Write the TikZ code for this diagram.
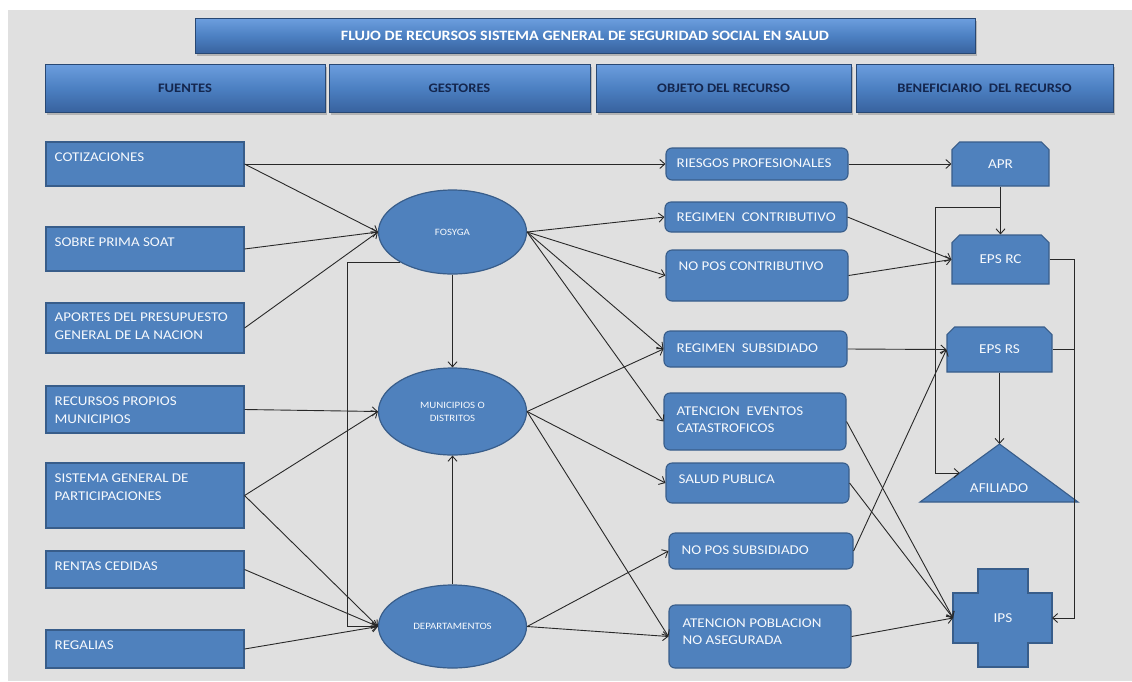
\documentclass[tikz,border=0pt]{standalone}
\usepackage{fontspec}
\setmainfont{Carlito}[FakeStretch=1.12]
\usetikzlibrary{arrows.meta,shapes.geometric,shapes.misc,shadows,calc}
\definecolor{bg}{RGB}{224,224,224}
\definecolor{boxfill}{RGB}{79,129,189}
\definecolor{boxline}{RGB}{56,93,138}
\definecolor{hdrtop}{RGB}{108,158,222}
\definecolor{hdrmid}{RGB}{76,128,194}
\definecolor{hdrbot}{RGB}{56,98,158}
\definecolor{hdrline}{RGB}{40,72,115}
\definecolor{hdrtext}{RGB}{20,38,78}
\definecolor{linec}{RGB}{40,40,40}
\definecolor{txtc}{RGB}{246,249,253}
\tikzset{
  hdr/.style={draw=hdrline, line width=0.8pt, top color=hdrtop, bottom color=hdrbot, middle color=hdrmid,
    drop shadow={shadow xshift=1.5pt, shadow yshift=-2.5pt, opacity=0.45},
    inner sep=0pt, font=\bfseries\fontsize{13}{15}\selectfont},
  srcbox/.style={draw=boxline, fill=boxfill, line width=1.1pt, minimum width=198pt, inner sep=0pt},
  objbox/.style={draw=boxline, fill=boxfill, line width=1.1pt, rounded corners=6pt, inner sep=0pt},
  txt/.style={anchor=north west, inner sep=0pt, align=left, text=txtc, font=\fontsize{13.4}{17.5}\selectfont},
  ell/.style={ellipse, draw=boxline, fill=boxfill, line width=1.2pt, minimum width=148pt, inner sep=0pt,
    text=txtc, align=center, font=\fontsize{9.7}{13}\selectfont},
  epsbox/.style={chamfered rectangle, chamfered rectangle corners={north west,north east},
    chamfered rectangle xsep=7pt, draw=boxline, fill=boxfill, line width=1.1pt, inner sep=0pt,
    text=txtc, font=\fontsize{13.6}{15}\selectfont},
  shp/.style={draw=boxline, fill=boxfill, line width=1.1pt, line join=miter},
  shptxt/.style={inner sep=0pt, text=txtc, font=\fontsize{13.6}{15}\selectfont},
  conn/.style={draw=linec, line width=0.9pt, -{Straight Barb[length=5pt,width=9pt]}},
  plain/.style={draw=linec, line width=0.9pt},
}
\begin{document}
\begin{tikzpicture}[x=1pt,y=-1pt]
\useasboundingbox (0,0) rectangle (1132,681);
\fill[white] (0,0) rectangle (1132,681);
\fill[bg] (8,10) rectangle (1132,681);

% headers
\node[hdr, minimum width=780pt, minimum height=35pt, text=white, font=\bfseries\fontsize{14.3}{16}\selectfont] (title) at (585,36) {FLUJO DE RECURSOS SISTEMA GENERAL DE SEGURIDAD SOCIAL EN SALUD};
\node[hdr, minimum width=280pt, minimum height=48pt, text=hdrtext] (h1) at (185,88) {FUENTES};
\node[hdr, minimum width=261pt, minimum height=48pt, text=hdrtext] (h2) at (459.5,88) {GESTORES};
\node[hdr, minimum width=255pt, minimum height=48pt, text=hdrtext] (h3) at (723.5,88) {OBJETO DEL RECURSO};
\node[hdr, minimum width=257pt, minimum height=48pt, text=hdrtext] (h4) at (984.5,88) {BENEFICIARIO\ \ DEL RECURSO};

% sources
\node[srcbox, minimum height=44pt] (cot) at (145,164) {};
\node[srcbox, minimum height=44pt] (soat) at (145,249) {};
\node[srcbox, minimum height=50pt] (apor) at (145,328) {};
\node[srcbox, minimum height=47pt] (recp) at (145,409.5) {};
\node[srcbox, minimum height=65pt] (sgp) at (145,495.5) {};
\node[srcbox, minimum height=37pt] (rent) at (145,569.5) {};
\node[srcbox, minimum height=38pt] (reg) at (145,649) {};
\node[txt] (cotT) at ([shift={(9,11.5)}]cot.north west) {COTIZACIONES};
\node[txt] (soatT) at ([shift={(9,11.5)}]soat.north west) {SOBRE PRIMA SOAT};
\node[txt] (aporT) at ([shift={(9,10.5)}]apor.north west) {APORTES DEL PRESUPUESTO\\GENERAL DE LA NACION};
\node[txt] (recpT) at ([shift={(9,11.5)}]recp.north west) {RECURSOS PROPIOS\\MUNICIPIOS};
\node[txt] (sgpT) at ([shift={(9,11.5)}]sgp.north west) {SISTEMA GENERAL DE\\PARTICIPACIONES};
\node[txt] (rentT) at ([shift={(9,11)}]rent.north west) {RENTAS CEDIDAS};
\node[txt] (regT) at ([shift={(9,11.5)}]reg.north west) {REGALIAS};

% managers
\node[ell, minimum height=84pt] (fos) at (452.5,232) {FOSYGA};
\node[ell, minimum height=87pt] (mun) at (452.5,411.5) {MUNICIPIOS O\\DISTRITOS};
\node[ell, minimum height=83pt] (dep) at (452.5,626.5) {DEPARTAMENTOS};

% objects
\node[objbox, minimum width=182pt, minimum height=32pt] (rp) at (757,164) {};
\node[objbox, minimum width=182pt, minimum height=30pt] (rc) at (756,217) {};
\node[objbox, minimum width=182pt, minimum height=51pt] (npc) at (757,275.5) {};
\node[objbox, minimum width=183pt, minimum height=36pt] (rs) at (755.5,349) {};
\node[objbox, minimum width=182pt, minimum height=57pt] (aec) at (755,421.5) {};
\node[objbox, minimum width=183pt, minimum height=40pt] (sp) at (757.5,483) {};
\node[objbox, minimum width=184pt, minimum height=36pt] (nps) at (761,551) {};
\node[objbox, minimum width=182pt, minimum height=63pt] (apn) at (760,636.5) {};
\node[txt] (rpT) at ([shift={(11,11.5)}]rp.north west) {RIESGOS PROFESIONALES};
\node[txt] (rcT) at ([shift={(12,11)}]rc.north west) {REGIMEN\ \ CONTRIBUTIVO};
\node[txt] (npcT) at ([shift={(13,12)}]npc.north west) {NO POS CONTRIBUTIVO};
\node[txt] (rsT) at ([shift={(13,13)}]rs.north west) {REGIMEN\ \ SUBSIDIADO};
\node[txt] (aecT) at ([shift={(13,14)}]aec.north west) {ATENCION\ \ EVENTOS\\CATASTROFICOS};
\node[txt] (spT) at ([shift={(13,12)}]sp.north west) {SALUD PUBLICA};
\node[txt] (npsT) at ([shift={(13,13)}]nps.north west) {NO POS SUBSIDIADO};
\node[txt] (apnT) at ([shift={(14,14)}]apn.north west) {ATENCION POBLACION\\NO ASEGURADA};

% beneficiaries
\node[epsbox, minimum width=97pt, minimum height=44pt] (apr) at (1000.5,164) {APR};
\node[epsbox, minimum width=97pt, minimum height=49pt] (epsrc) at (1000.5,259.5) {EPS RC};
\node[epsbox, minimum width=105pt, minimum height=45pt] (epsrs) at (999.5,349.5) {EPS RS};

\coordinate (afA) at (999.5,444);
\coordinate (afBL) at (920,502);
\coordinate (afBR) at (1078,502);
\filldraw[shp] (afA) -- (afBR) -- (afBL) -- cycle;
\node[shptxt] (afi) at (999,488) {AFILIADO};
\coordinate (afL) at ($(afA)!0.5!(afBL)$);

\filldraw[shp] (978,569) -- (1028,569) -- (1028,593) -- (1052,593) -- (1052,643) -- (1028,643)
  -- (1028,667) -- (978,667) -- (978,643) -- (953,643) -- (953,593) -- (978,593) -- cycle;
\node[shptxt] (ips) at (1003,618) {IPS};
\coordinate (ipsL) at (953,618);
\coordinate (ipsR) at (1052,618);

% rails
\coordinate (railL) at (347,0);
\coordinate (railA) at (935,0);
\coordinate (railR) at (1074,0);
\coordinate (j1) at ($(apr.south)!0.43!(epsrc.north)$);

% connectors: sources -> managers
\draw[conn] (cot.east) -- (rp.west);
\draw[conn] (cot.east) -- (fos.west);
\draw[conn] (soat.east) -- (fos.west);
\draw[conn] (apor.east) -- (fos.west);
\draw[conn] (recp.east) -- (mun.west);
\draw[conn] (sgp.east) -- (mun.west);
\draw[conn] (sgp.east) -- (dep.west);
\draw[conn] (rent.east) -- (dep.west);
\draw[conn] (reg.east) -- (dep.west);
\draw[conn] (fos.south) -- (mun.north);
\draw[conn] (dep.north) -- (mun.south);
\draw[conn] (fos.south west) -- (fos.south west -| railL) |- (dep.west);

% managers -> objects
\draw[conn] (fos.east) -- (rc.west);
\draw[conn] (fos.east) -- (npc.west);
\draw[conn] (fos.east) -- (rs.west);
\draw[conn] (fos.east) -- (aec.west);
\draw[conn] (mun.east) -- (rs.west);
\draw[conn] (mun.east) -- (sp.west);
\draw[conn] (mun.east) -- (apn.west);
\draw[conn] (dep.east) -- (nps.west);
\draw[conn] (dep.east) -- (apn.west);

% objects -> beneficiaries
\draw[conn] (rp.east) -- (apr.west);
\draw[conn] (apr.south) -- (epsrc.north);
\draw[conn] (rc.east) -- (epsrc.west);
\draw[conn] (npc.east) -- (epsrc.west);
\draw[conn] (rs.east) -- (epsrs.west);
\draw[conn] (nps.east) -- (epsrs.west);
\draw[conn] (epsrs.south) -- (afA);
\draw[conn] (j1) -- (j1 -| railA) |- (afL);
\draw[conn] (aec.east) -- (ipsL);
\draw[conn] (sp.east) -- (ipsL);
\draw[conn] (apn.east) -- (ipsL);
\draw[conn] (epsrc.east) -- (epsrc.east -| railR) |- (ipsR);
\draw[plain] (epsrs.east) -- (epsrs.east -| railR);
\end{tikzpicture}
\end{document}
